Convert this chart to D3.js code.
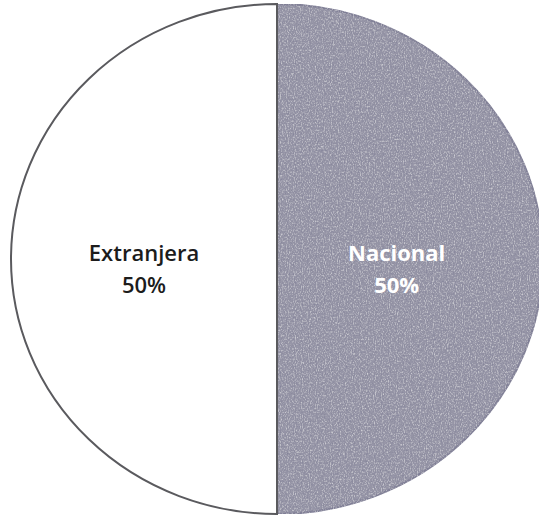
<!DOCTYPE html>
<html>
<head>
<meta charset="utf-8">
<script src="https://cdn.jsdelivr.net/npm/d3@7"></script>
<style>
  html, body { margin: 0; padding: 0; background: #fff; }
  svg { display: block; }
</style>
</head>
<body>
<svg id="chart" width="539" height="519"></svg>
<script>
// Origen de los fondos
const categories = ["Nacional", "Extranjera"];
const values = [50, 50];
const valueLabels = ["50%", "50%"];
const fills = ["#9897a8", "#ffffff"];
const labelColors = ["#ffffff", "#1c1c1c"];
const labelWeights = ["bold", "600"];

const cx = 277, cy = 259;
const rx = 266, ry = 255;

const svg = d3.select("#chart");

// Grain for the shaded slice
const defs = svg.append("defs");
const grain = defs.append("filter").attr("id", "grain")
  .attr("x", 0).attr("y", 0).attr("width", 1).attr("height", 1);
grain.append("feTurbulence").attr("type", "fractalNoise")
  .attr("baseFrequency", "0.9 0.55").attr("numOctaves", 2).attr("seed", 4).attr("result", "noise");
grain.append("feColorMatrix").attr("in", "noise").attr("type", "matrix")
  .attr("values", "0 0 0 0 0.15  0 0 0 0 0.15  0 0 0 0 0.25  0 0 0 -1.2 0.62")
  .attr("result", "dark");
grain.append("feComposite").attr("in", "dark").attr("in2", "SourceGraphic").attr("operator", "in").attr("result", "darkIn");
grain.append("feColorMatrix").attr("in", "noise").attr("type", "matrix")
  .attr("values", "0 0 0 0 1  0 0 0 0 1  0 0 0 0 1  0 0 0 1.2 -0.62")
  .attr("result", "light");
grain.append("feComposite").attr("in", "light").attr("in2", "SourceGraphic").attr("operator", "in").attr("result", "lightIn");
const merge = grain.append("feMerge");
merge.append("feMergeNode").attr("in", "SourceGraphic");
merge.append("feMergeNode").attr("in", "darkIn");
merge.append("feMergeNode").attr("in", "lightIn");

const pie = d3.pie().sort(null).value(d => d)
  .startAngle(0).endAngle(2 * Math.PI);
const arcs = pie(values);

const arc = d3.arc().innerRadius(0).outerRadius(ry);

// Slightly wider than tall
const g = svg.append("g")
  .attr("transform", `translate(${cx},${cy}) scale(${rx / ry},1)`);

g.selectAll("path.slice")
  .data(arcs)
  .join("path")
  .attr("class", "slice")
  .attr("d", arc)
  .attr("fill", (d, i) => fills[i])
  .attr("filter", (d, i) => i === 0 ? "url(#grain)" : null)
  .attr("stroke", (d, i) => i === 0 ? "#85849a" : "#5a5a5e")
  .attr("stroke-width", 2)
  .attr("vector-effect", "non-scaling-stroke");

// Labels, placed inside each half
const labelRadius = i => (i === 0 ? 0.45 : 0.5) * ry;
const labels = svg.append("g")
  .attr("font-family", "'Open Sans', sans-serif")
  .attr("font-size", 22)
  .attr("text-anchor", "middle");

arcs.forEach((d, i) => {
  const la = d3.arc().innerRadius(labelRadius(i)).outerRadius(labelRadius(i));
  const [x] = la.centroid(d);
  const lx = cx + x * (rx / ry);
  const t = labels.append("text")
    .attr("fill", labelColors[i])
    .attr("font-weight", labelWeights[i]);
  t.append("tspan").attr("x", lx).attr("y", 261).text(categories[i]);
  t.append("tspan").attr("x", lx).attr("y", 293).text(valueLabels[i]);
});
</script>
</body>
</html>
